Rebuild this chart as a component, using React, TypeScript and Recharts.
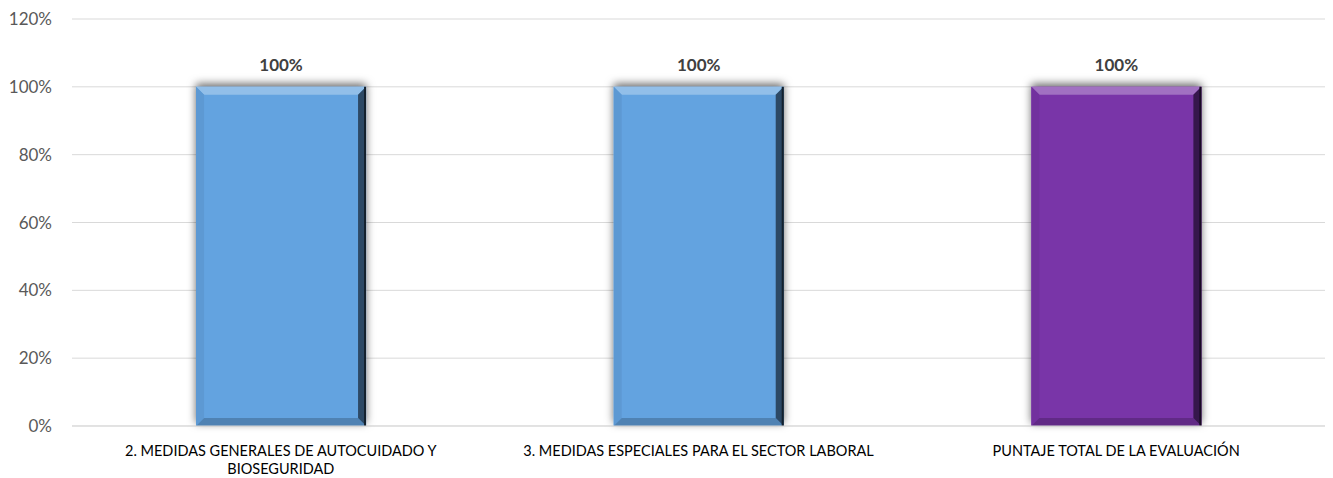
import React from "react"
import { BarChart, Bar, XAxis, YAxis, CartesianGrid, LabelList, Cell } from "recharts"

const categories = [
  "2. MEDIDAS GENERALES DE AUTOCUIDADO Y BIOSEGURIDAD",
  "3. MEDIDAS ESPECIALES PARA EL SECTOR LABORAL",
  "PUNTAJE TOTAL DE LA EVALUACIÓN",
]
const scores = [1, 1, 1]
const barColors = ["#63a3e0", "#63a3e0", "#7934a8"]
const yTicks = [0, 0.2, 0.4, 0.6, 0.8, 1, 1.2]

const data = categories.map((name, i) => ({ name, value: scores[i], color: barColors[i] }))

const FONT = "Lato, 'Open Sans', sans-serif"
const pct = (v: number) => `${Math.round(v * 100)}%`

function shade(hex: string, f: number) {
  const n = parseInt(hex.slice(1), 16)
  const ch = [(n >> 16) & 255, (n >> 8) & 255, n & 255].map((c) =>
    Math.round(f >= 0 ? c + (255 - c) * f : c * (1 + f))
  )
  return `rgb(${ch.join(",")})`
}

// break a label into lines of at most maxChars characters
function wrap(label: string, maxChars: number) {
  const lines: string[] = []
  let cur = ""
  for (const word of label.split(" ")) {
    const next = cur ? cur + " " + word : word
    if (next.length > maxChars && cur) {
      lines.push(cur)
      cur = word
    } else {
      cur = next
    }
  }
  if (cur) lines.push(cur)
  return lines
}

function BevelBar(props: any) {
  const { x, y, width: w, height: h, payload } = props
  const c = payload.color
  const b = 8
  return (
    <g>
      <rect x={x} y={y} width={w} height={h} fill={c} filter="url(#barShadow)" />
      <polygon points={`${x},${y} ${x + w},${y} ${x + w - b},${y + b} ${x + b},${y + b}`} fill={shade(c, 0.3)} />
      <polygon points={`${x},${y} ${x + b},${y + b} ${x + b},${y + h - b} ${x},${y + h}`} fill={shade(c, -0.06)} />
      <polygon points={`${x},${y + h} ${x + b},${y + h - b} ${x + w - b},${y + h - b} ${x + w},${y + h}`} fill={shade(c, -0.2)} />
      <polygon points={`${x + w},${y} ${x + w},${y + h} ${x + w - b},${y + h - b} ${x + w - b},${y + b}`} fill={shade(c, -0.55)} />
      <line x1={x + w - 1} y1={y} x2={x + w - 1} y2={y + h} stroke={shade(c, -0.8)} strokeWidth={2} />
    </g>
  )
}

function CategoryTick(props: any) {
  const { x, y, payload } = props
  const lines = wrap(payload.value, 45)
  return (
    <text x={x} y={y + 22} textAnchor="middle" fill="#000" style={{ fontSize: 14.5, fontFamily: FONT }}>
      {lines.map((l, i) => (
        <tspan key={i} x={x} dy={i === 0 ? 0 : 18}>
          {l}
        </tspan>
      ))}
    </text>
  )
}

export default function App() {
  return (
    <div style={{ width: 1325, height: 470, background: "#fff" }}>
      <BarChart
        width={1325}
        height={470}
        data={data}
        margin={{ top: 11, right: 8, bottom: 0, left: 0 }}
        barCategoryGap="29.7%"
      >
        <defs>
          <filter id="barShadow" x="-10%" y="-10%" width="120%" height="120%">
            <feDropShadow dx="0" dy="-3" stdDeviation="4" floodColor="#000" floodOpacity="0.6" />
          </filter>
        </defs>
        <CartesianGrid vertical={false} stroke="#d9d9d9" />
        <XAxis
          dataKey="name"
          tick={<CategoryTick />}
          tickLine={false}
          axisLine={{ stroke: "#d9d9d9" }}
          height={52}
          interval={0}
        />
        <YAxis
          domain={[0, 1.2]}
          ticks={yTicks}
          tickFormatter={pct}
          tick={{ fill: "#595959", fontSize: 17, fontFamily: FONT }}
          tickLine={false}
          axisLine={false}
          tickSize={0}
          tickMargin={20}
          width={64}
        />
        <Bar dataKey="value" shape={<BevelBar />} isAnimationActive={false}>
          {data.map((d, i) => (
            <Cell key={i} fill={d.color} />
          ))}
          <LabelList
            dataKey="value"
            position="top"
            offset={16}
            formatter={(v: any) => pct(Number(v))}
            style={{ fill: "#404040", fontSize: 17, fontWeight: 700, fontFamily: FONT }}
          />
        </Bar>
      </BarChart>
    </div>
  )
}
